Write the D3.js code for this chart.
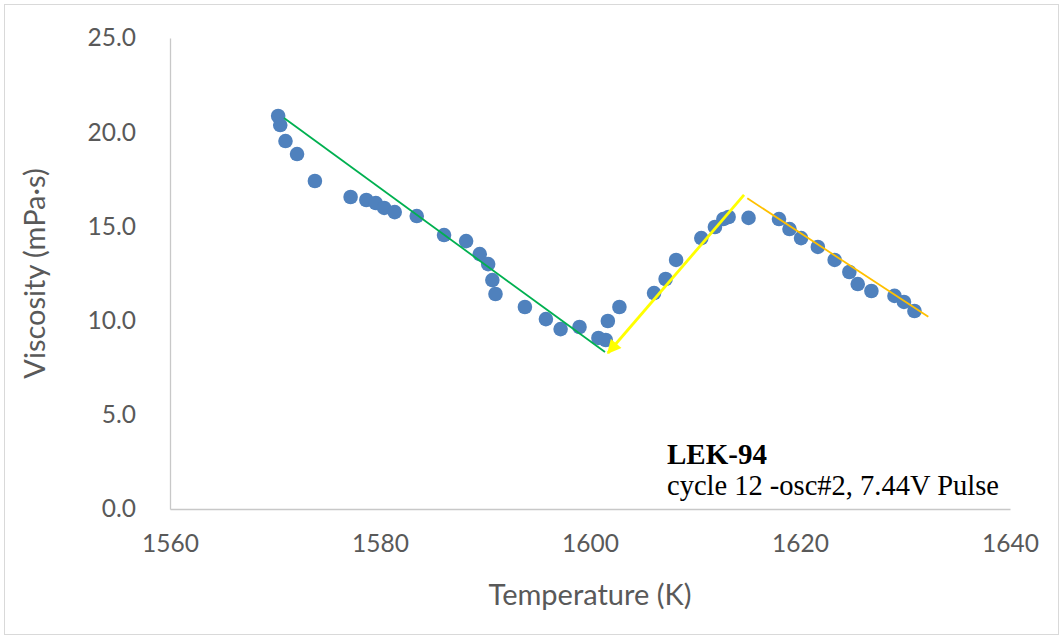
<!DOCTYPE html>
<html>
<head>
<meta charset="utf-8">
<script src="https://cdn.jsdelivr.net/npm/d3@7"></script>
<style>
  body { margin: 0; background: #ffffff; }
  svg { display: block; }
</style>
</head>
<body>
<svg id="chart" width="1063" height="639"></svg>
<script>
// Measured viscosity of LEK-94, cycle 12, oscillation #2
const temperatureK = [
  1570.3, 1570.5, 1571.0, 1572.1, 1573.8, 1577.2, 1578.7, 1579.6, 1580.4, 1581.4,
  1583.5, 1586.1, 1588.2, 1589.5, 1590.3, 1590.7, 1591.0, 1593.8, 1595.8, 1597.2,
  1599.0, 1600.8, 1601.5, 1601.7, 1602.8, 1606.1, 1607.2, 1608.2, 1610.6, 1611.9,
  1612.7, 1613.2, 1615.1, 1618.0, 1619.0, 1620.1, 1621.7, 1623.3, 1624.7, 1625.5,
  1626.8, 1629.0, 1629.9, 1630.9
];
const viscosityMPas = [
  20.86, 20.38, 19.53, 18.84, 17.41, 16.56, 16.40, 16.24, 15.98, 15.76,
  15.55, 14.54, 14.22, 13.53, 13.00, 12.15, 11.41, 10.72, 10.08, 9.55,
  9.66, 9.08, 8.97, 9.98, 10.72, 11.46, 12.21, 13.22, 14.38, 14.97,
  15.39, 15.50, 15.45, 15.39, 14.86, 14.38, 13.91, 13.22, 12.58, 11.94,
  11.57, 11.31, 10.99, 10.51
];

// Guide lines drawn over the data (start / end points)
const coolingLineT = [1570.86, 1601.43];
const coolingLineV = [20.75, 8.33];
const heatingArrowT = [1614.67, 1601.71];
const heatingArrowV = [16.67, 8.28];
const secondCoolingT = [1614.98, 1632.22];
const secondCoolingV = [16.49, 10.21];

const xTickValues = [1560, 1580, 1600, 1620, 1640];
const yTickValues = [0, 5, 10, 15, 20, 25];

const svg = d3.select("#chart");
const W = 1063, H = 639;
const margin = { left: 170, right: 53, top: 38, bottom: 130 };

// outer chart frame
svg.append("rect")
  .attr("x", 4.5).attr("y", 4.5)
  .attr("width", W - 9).attr("height", H - 9)
  .attr("fill", "#ffffff").attr("stroke", "#d9d9d9").attr("stroke-width", 1);

const x = d3.scaleLinear().domain([1560, 1640]).range([margin.left, W - margin.right]);
const y = d3.scaleLinear().domain([0, 25]).range([H - margin.bottom, margin.top]);

const tickFont = "Lato, 'Open Sans', sans-serif";

// x axis
const xAxis = svg.append("g")
  .attr("transform", `translate(0,${y(0)})`)
  .call(d3.axisBottom(x).tickValues(xTickValues).tickSize(0).tickSizeOuter(0).tickPadding(26)
        .tickFormat(d3.format("d")));
xAxis.select(".domain").attr("stroke", "#c8c8c8").attr("stroke-width", 1.3);
xAxis.selectAll("text")
  .attr("font-family", tickFont).attr("font-size", 24.5).attr("fill", "#595959");

// y axis
const yAxis = svg.append("g")
  .attr("transform", `translate(${x(1560)},0)`)
  .call(d3.axisLeft(y).tickValues(yTickValues).tickSize(0).tickSizeOuter(0).tickPadding(34)
        .tickFormat(d3.format(".1f")));
yAxis.select(".domain").attr("stroke", "#c8c8c8").attr("stroke-width", 1.3);
yAxis.selectAll("text")
  .attr("font-family", tickFont).attr("font-size", 24.5).attr("fill", "#595959");

// axis titles
svg.append("text")
  .attr("x", (x.range()[0] + x.range()[1]) / 2)
  .attr("y", 605)
  .attr("text-anchor", "middle")
  .attr("font-family", tickFont).attr("font-size", 29).attr("fill", "#595959")
  .text("Temperature (K)");

svg.append("text")
  .attr("transform", `translate(45,${(y.range()[0] + y.range()[1]) / 2}) rotate(-90)`)
  .attr("text-anchor", "middle")
  .attr("font-family", tickFont).attr("font-size", 29).attr("fill", "#595959")
  .text("Viscosity (mPa·s)");

// data markers
const points = temperatureK.map((t, i) => ({ t, v: viscosityMPas[i] }));
svg.append("g").selectAll("circle")
  .data(points)
  .join("circle")
  .attr("cx", d => x(d.t))
  .attr("cy", d => y(d.v))
  .attr("r", 7.3)
  .attr("fill", "#4f81bd");

// arrowhead for heating segment
svg.append("defs").append("marker")
  .attr("id", "arrowHead")
  .attr("viewBox", "0 0 10 10")
  .attr("refX", 9).attr("refY", 5)
  .attr("markerWidth", 5.5).attr("markerHeight", 5)
  .attr("markerUnits", "strokeWidth")
  .attr("orient", "auto")
  .append("path")
  .attr("d", "M0,0 L10,5 L0,10 Z")
  .attr("fill", "#ffff00");

const seg = (ts, vs) => ts.map((t, i) => [x(t), y(vs[i])]);
const line = d3.line();

svg.append("path")
  .attr("d", line(seg(coolingLineT, coolingLineV)))
  .attr("stroke", "#00b050").attr("stroke-width", 1.8).attr("fill", "none");

svg.append("path")
  .attr("d", line(seg(secondCoolingT, secondCoolingV)))
  .attr("stroke", "#ffc000").attr("stroke-width", 1.8).attr("fill", "none");

svg.append("path")
  .attr("d", line(seg(heatingArrowT, heatingArrowV)))
  .attr("stroke", "#ffff00").attr("stroke-width", 2.8).attr("fill", "none")
  .attr("marker-end", "url(#arrowHead)");

// sample annotation
const note = svg.append("text")
  .attr("x", 667).attr("y", 464)
  .attr("font-family", "'Liberation Serif', 'Times New Roman', serif")
  .attr("fill", "#000000");
note.append("tspan").attr("x", 667).attr("font-weight", "bold").attr("font-size", 29).text("LEK-94");
note.append("tspan").attr("x", 667).attr("dy", 31).attr("font-size", 28.5).text("cycle 12 -osc#2, 7.44V Pulse");
</script>
</body>
</html>
